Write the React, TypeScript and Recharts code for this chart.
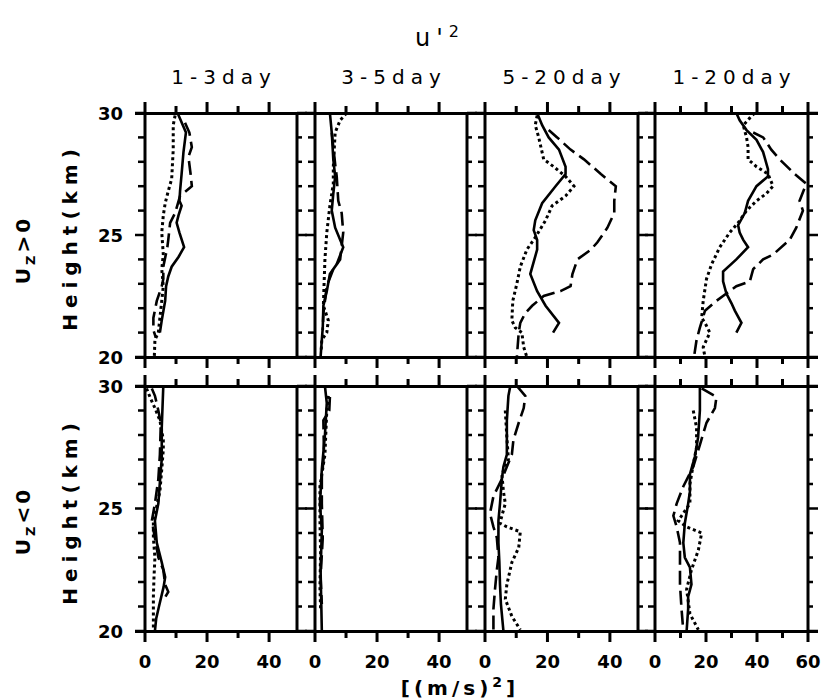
import React from 'react';
import { LineChart, Line, XAxis, YAxis } from 'recharts';

// each point: [height (km), u'^2 (m/s)^2]
type Pt = [number, number];

// ---- Uz > 0 ----
const up13Solid: Pt[] = [[30, 10.5], [29.2, 13.2], [28.4, 12.4], [27.5, 11.8], [26.8, 11.3], [26.4, 11.1], [26.2, 11.8], [25.8, 10.8], [25.5, 10.2], [25.1, 11.1], [24.5, 12.6], [24.1, 10.8], [23.7, 8.6], [23.3, 7.5], [22.9, 6.8], [22.3, 6.5], [21.5, 5.4], [21.0, 4.8]];
const up13Dotted: Pt[] = [[29.9, 9.7], [29.5, 9.1], [28.5, 9.1], [27.3, 8.6], [26.8, 7.5], [26.3, 6.5], [25.8, 5.9], [25.1, 5.4], [24.2, 5.9], [23.6, 5.4], [22.9, 5.9], [22.3, 5.4], [21.6, 4.8], [21.0, 4.3], [20.7, 3.2], [20, 3.0]];
const up13Dashed: Pt[] = [[29.6, 12.9], [29.2, 14.3], [28.6, 15.1], [28.2, 14], [27.5, 14.7], [27.0, 15.1], [26.6, 11.3], [25.9, 9.7], [25.5, 8.1], [24.8, 7.5], [24.5, 7.2], [23.7, 5.9], [23.2, 5.9], [22.9, 5.4], [22.3, 3.8], [21.6, 2.7], [21.1, 2.7], [20.8, 3.5]];

const up35Solid: Pt[] = [[30, 4.8], [29.2, 5.4], [28.1, 5.9], [27.4, 6.5], [26.7, 5.9], [26.0, 5.4], [25.3, 6.5], [24.5, 9.1], [23.8, 7.0], [23.4, 4.8], [22.7, 3.8], [22.1, 2.7], [21.2, 2.5], [20.7, 2.2], [20, 1.8]];
const up35Dotted: Pt[] = [[30, 10.2], [29.7, 8.1], [29.2, 6.5], [27.8, 5.9], [27.1, 5.9], [26.2, 4.8], [25.1, 3.8], [24.0, 3.2], [22.9, 2.9], [22.1, 2.7], [21.5, 4.3], [21.0, 3.8], [20.7, 2.2], [20.3, 2.0]];
const up35Dashed: Pt[] = [[29.2, 5.4], [27.9, 6.5], [27.4, 7.0], [26.4, 7.5], [25.9, 8.6], [25.1, 9.1], [24.0, 8.1], [23.6, 5.9], [22.9, 3.8], [21.8, 2.7], [21.1, 2.5]];

const up520Solid: Pt[] = [[30, 16.7], [29.5, 18.3], [29.0, 20.4], [28.5, 23.7], [27.8, 25.8], [27.5, 25.8], [27.0, 22.6], [26.3, 18.3], [25.6, 16.1], [25.2, 15.6], [24.8, 16.7], [24.4, 16.7], [23.4, 14.5], [22.7, 16.7], [22.1, 19.4], [21.4, 23.7], [21.0, 21.8]];
const up520Dotted: Pt[] = [[29.9, 16.7], [29.5, 16.1], [29.0, 17.2], [28.1, 18.8], [27.8, 22.0], [27.4, 25.8], [27.0, 28.5], [26.6, 25.8], [26.2, 21.5], [25.6, 19.4], [24.9, 16.1], [24.4, 13.4], [23.7, 11.3], [23.0, 10.2], [22.3, 8.9], [21.5, 8.6], [21.2, 9.7], [21.0, 11.8], [20.4, 12.4], [20, 13.4]];
const up520Dashed: Pt[] = [[29.3, 20.4], [29.0, 23.1], [28.5, 27.4], [28.1, 31.7], [27.5, 37.1], [27.0, 41.9], [26.4, 41.4], [25.9, 41.4], [25.3, 39.2], [24.7, 36.0], [24.4, 33.9], [24.0, 29.6], [23.4, 28.0], [22.9, 27.4], [22.7, 24.2], [22.5, 18.8], [22.1, 15.1], [21.8, 12.9], [21.4, 11.3], [21.0, 10.8], [20, 10.2]];

const up120Solid: Pt[] = [[30, 31.9], [29.7, 33.2], [29.3, 35.9], [28.9, 39.8], [28.4, 42.4], [27.7, 44.3], [27.4, 44.3], [27.0, 39.8], [26.4, 36.5], [25.9, 35.2], [25.4, 32.6], [25.1, 33.2], [24.8, 34.6], [24.5, 36.5], [24.0, 31.9], [23.5, 26.7], [23.1, 26.7], [22.6, 28.0], [22.2, 30.0], [21.9, 31.3], [21.4, 33.9], [21.0, 31.9]];
const up120Dotted: Pt[] = [[30, 39.1], [29.8, 37.2], [29.5, 34.6], [29.0, 35.9], [28.6, 36.5], [28.1, 36.5], [27.8, 39.8], [27.5, 44.3], [27.0, 46.3], [26.7, 43.7], [26.4, 39.8], [26.0, 35.9], [25.5, 32.6], [25.1, 29.3], [24.5, 25.4], [23.8, 22.2], [23.2, 20.2], [22.3, 18.9], [21.6, 18.3], [21.4, 19.6], [21.0, 21.5], [20.7, 20.2], [20.4, 18.9], [20, 19.6]];
const up120Dashed: Pt[] = [[29.2, 38.5], [29.0, 42.4], [28.5, 45.6], [28.1, 48.9], [27.5, 54.8], [27.1, 59.3], [26.4, 56.7], [26.0, 58.0], [25.3, 55.4], [24.8, 52.8], [24.2, 46.3], [24.0, 42.4], [23.6, 38.5], [23.1, 37.2], [22.9, 31.9], [22.6, 28.0], [22.3, 24.1], [21.9, 19.6], [21.2, 17.6], [20.7, 16.3], [20, 15.3]];

// ---- Uz < 0 ----
const dn13Solid: Pt[] = [[30, 5.9], [28.3, 5.4], [27, 5.4], [26.6, 5.1], [25.2, 4.3], [24.5, 3.2], [23.6, 3.8], [22.8, 5.4], [22.2, 6.5], [21.8, 6.0], [21.0, 4.5], [20.5, 3.6], [20, 3.2]];
const dn13Dotted: Pt[] = [[29.9, 0.5], [29.55, 1.6], [29.1, 3.2], [28.6, 4.8], [27.8, 5.9], [27.4, 5.9], [26.6, 5.4], [25.7, 4.8], [25.1, 3.8], [24.5, 2.7], [23.8, 2.7], [23.0, 3.2], [22.2, 2.9], [21.4, 2.7], [20.6, 2.7], [20, 2.7]];
const dn13Dashed: Pt[] = [[29.9, 2.2], [29.6, 3.2], [29.0, 4.3], [28.5, 5.1], [27.2, 4.8], [26.2, 4.3], [25.2, 3.2], [24.5, 2.2], [23.8, 3.2], [23.0, 4.3], [22.5, 5.9], [21.9, 6.5], [21.6, 7.5], [21.4, 6.6]];

const dn35Solid: Pt[] = [[30, 3.2], [29.3, 3.8], [28, 3.2], [26.6, 2.2], [25.2, 1.6], [24.1, 2.2], [22.5, 1.8], [20, 2.2]];
const dn35Dotted: Pt[] = [[29.6, 4.3], [29.0, 3.8], [27.2, 3.2], [25.9, 1.6], [24.5, 1.6], [23.2, 1.8], [21.8, 1.6], [20.9, 1.8]];
const dn35Dashed: Pt[] = [[29.55, 4.8], [29.0, 4.6], [28.6, 2.7], [27.2, 2.9], [26.3, 2.2], [25.2, 2.2], [23.8, 2.5], [22.2, 1.8], [21.1, 2.2]];

const dn520Solid: Pt[] = [[30, 8.1], [29.6, 7.5], [28.6, 7.0], [27.2, 7.0], [26.7, 5.9], [26.2, 5.4], [25.2, 4.8], [24.5, 4.3], [23.6, 4.3], [22.8, 4.6], [21.9, 4.8], [21.1, 5.1], [20, 5.9]];
const dn520Dotted: Pt[] = [[29.0, 6.5], [27.9, 7.0], [27.0, 7.5], [26.4, 5.4], [25.7, 5.9], [25.2, 6.5], [24.7, 5.4], [24.4, 4.8], [24.25, 7.0], [24.05, 11.3], [23.4, 10.8], [22.8, 8.6], [21.9, 7.0], [21.3, 6.5], [20.6, 8.6], [20.05, 11.3]];
const dn520Dashed: Pt[] = [[30, 10.2], [29.6, 12.9], [29.1, 12.4], [28.5, 10.8], [27.8, 9.1], [27.2, 8.6], [26.7, 7.0], [26.2, 5.4], [25.5, 2.7], [24.8, 1.6], [24.25, 2.7], [23.8, 3.8], [23.0, 4.3], [22.5, 3.8], [21.7, 3.2], [20.9, 2.7], [20, 2.7]];

const dn120Solid: Pt[] = [[30, 17.6], [29.0, 17.6], [27.9, 16.9], [27.1, 15.6], [26.4, 13.7], [25.7, 13.7], [25.2, 13.0], [24.4, 11.7], [23.6, 11.1], [23.0, 11.7], [22.6, 13.7], [21.9, 14.3], [21.4, 13.0], [20.9, 13.0], [20, 12.4]];
const dn120Dotted: Pt[] = [[29.0, 15.0], [28.3, 16.3], [27.5, 16.3], [26.8, 15.0], [26.0, 13.7], [25.2, 13.7], [24.8, 11.1], [24.5, 9.1], [24.25, 12.4], [24.0, 18.3], [23.3, 17.0], [22.5, 14.3], [21.7, 12.4], [20.7, 13.7], [20.05, 17.0]];
const dn120Dashed: Pt[] = [[29.9, 18.3], [29.55, 24.1], [29.1, 23.5], [28.5, 20.2], [27.6, 17.6], [26.7, 15.0], [25.9, 11.1], [25.2, 8.5], [24.7, 7.2], [24.25, 8.5], [23.6, 9.8], [22.8, 9.8], [21.9, 9.8], [20.9, 10.4], [20, 11.1]];

const panelTitles = ['1-3day', '3-5day', '5-20day', '1-20day'];
const xMax = [49, 49, 49, 60];
const xTicksA = [0, 10, 20, 30, 40];
const xTicksB = [0, 10, 20, 30, 40, 50, 60];
const yTicks = [20, 21, 22, 23, 24, 25, 26, 27, 28, 29, 30];

const rows = [
  [
    [up13Solid, up13Dotted, up13Dashed],
    [up35Solid, up35Dotted, up35Dashed],
    [up520Solid, up520Dotted, up520Dashed],
    [up120Solid, up120Dotted, up120Dashed],
  ],
  [
    [dn13Solid, dn13Dotted, dn13Dashed],
    [dn35Solid, dn35Dotted, dn35Dashed],
    [dn520Solid, dn520Dotted, dn520Dashed],
    [dn120Solid, dn120Dotted, dn120Dashed],
  ],
];

const INK = '#000';
const FONT = '"DejaVu Sans", sans-serif';
const lineStyles = [
  { dash: undefined, w: 2.6 },
  { dash: '3 3', w: 3 },
  { dash: '14 6', w: 2.6 },
];

const PANEL_LEFT = [145, 315, 485, 655];
const PANEL_W = [152, 152, 153, 153];
const ROW_TOP = [113, 386];
const ROW_H = [244, 245];
const M = 14;

const toRows = (pts: Pt[]) => pts.map(([h, v]) => ({ h, v }));

// top-axis tick: draws the tick above the frame, the matching one below it, and the bottom label
const xTick = (plotH: number, label: boolean) => (p: any) => {
  const v = p.payload.value;
  const len = v % 20 === 0 ? 11 : 7;
  const yb = p.y + plotH;
  return (
    <g>
      <rect x={p.x - 1.5} y={p.y - len} width={3} height={len + 1} fill={INK} />
      <rect x={p.x - 1.5} y={yb - 1} width={3} height={len + 1} fill={INK} />
      {label && v % 20 === 0 && (
        <text x={p.x} y={yb + 37} textAnchor="middle" fontSize={18} fontWeight="bold" fontFamily={FONT} fill={INK}>
          {v}
        </text>
      )}
    </g>
  );
};

const yTick = (dir: number, label: boolean) => (p: any) => {
  const v = p.payload.value;
  const len = v % 5 === 0 ? 10 : dir < 0 ? 7 : 5;
  return (
    <g>
      <rect x={dir < 0 ? p.x - len : p.x} y={p.y - 1.25} width={len} height={2.5} fill={INK} />
      {label && v % 5 === 0 && (
        <text x={p.x - 22} y={p.y + 6.5} textAnchor="end" fontSize={18} fontWeight="bold" fontFamily={FONT} fill={INK}>
          {v}
        </text>
      )}
    </g>
  );
};

function Panel({ r, c }: { r: number; c: number }) {
  const left = c === 0 ? 60 : M;
  const bottom = r === 1 ? 45 : M;
  const w = PANEL_W[c] + left + M;
  const h = ROW_H[r] + M + bottom;
  const ticks = c === 3 ? xTicksB : xTicksA;
  const dom: [number, number] = [0, xMax[c]];
  return (
    <div style={{ position: 'absolute', left: PANEL_LEFT[c] - left, top: ROW_TOP[r] - M }}>
      <LineChart width={w} height={h} layout="vertical" margin={{ top: M - 1, right: M - 1, bottom: bottom - 1, left: left - 1 }}>
        <XAxis xAxisId="b" type="number" orientation="bottom" domain={dom} ticks={ticks} interval={0}
          allowDataOverflow height={1} axisLine={false} tickLine={false} tick={false} />
        <XAxis xAxisId="t" type="number" orientation="top" domain={dom} ticks={ticks} interval={0}
          allowDataOverflow height={1} axisLine={false} tickLine={false} tickSize={0} tickMargin={0}
          tick={xTick(ROW_H[r], r === 1)} />
        <YAxis yAxisId="l" type="number" dataKey="h" domain={[20, 30]} ticks={yTicks} interval={0} reversed
          allowDataOverflow width={1} axisLine={{ stroke: INK, strokeWidth: 3 }} tickLine={false} tickSize={0}
          tickMargin={0} tick={yTick(-1, c === 0)} />
        <YAxis yAxisId="r" orientation="right" type="number" dataKey="h" domain={[20, 30]} ticks={yTicks} reversed
          interval={0} allowDataOverflow width={1} axisLine={{ stroke: INK, strokeWidth: 3 }} tickLine={false}
          tickSize={0} tickMargin={0} tick={yTick(1, false)} />
        {rows[r][c].map((pts, i) => (
          <Line key={i} xAxisId="b" yAxisId="l" data={toRows(pts)} dataKey="v" type="linear" stroke={INK}
            strokeWidth={lineStyles[i].w} strokeDasharray={lineStyles[i].dash} dot={false} activeDot={false}
            isAnimationActive={false} />
        ))}
      </LineChart>
    </div>
  );
}

const hLine = (y: number) => (
  <div key={y} style={{ position: 'absolute', left: 135, top: y - 1.5, width: 683, height: 3, background: INK }} />
);

const vText = (text: React.ReactNode, cx: number, cy: number, spacing: number) => (
  <div style={{
    position: 'absolute', left: cx, top: cy, transform: 'translate(-50%, -50%) rotate(-90deg)',
    whiteSpace: 'nowrap', fontFamily: FONT, fontWeight: 'bold', fontSize: 20, letterSpacing: spacing, color: INK,
  }}>{text}</div>
);

export default function App() {
  return (
    <div style={{ position: 'absolute', left: 0, top: 0, width: 823, height: 700, background: '#fff', overflow: 'hidden' }}>
      <div style={{ position: 'absolute', left: 440, top: 22, transform: 'translateX(-50%)', fontFamily: FONT, fontSize: 24, letterSpacing: 6, color: INK, whiteSpace: 'nowrap' }}>
        u'<sup style={{ fontSize: 16 }}>2</sup>
      </div>
      {panelTitles.map((t, c) => (
        <div key={t} style={{ position: 'absolute', left: PANEL_LEFT[c] + PANEL_W[c] / 2 + 3, top: 65, transform: 'translateX(-50%)', fontFamily: FONT, fontSize: 20, letterSpacing: 6, color: INK, whiteSpace: 'nowrap' }}>
          {t}
        </div>
      ))}
      {[0, 1].map((r) => [0, 1, 2, 3].map((c) => <Panel key={`${r}-${c}`} r={r} c={c} />))}
      {ROW_TOP.map((t, r) => [hLine(t), hLine(t + ROW_H[r])])}
      {vText('Height(km)', 70, 237, 6)}
      {vText(<span>U<sub style={{ fontSize: 13 }}>Z</sub>&gt;0</span>, 24, 250, 3)}
      {vText('Height(km)', 70, 511, 6)}
      {vText(<span>U<sub style={{ fontSize: 13 }}>Z</sub>&lt;0</span>, 24, 521, 3)}
      <div style={{ position: 'absolute', left: 460, top: 676, transform: 'translateX(-50%)', fontFamily: FONT, fontWeight: 'bold', fontSize: 20, letterSpacing: 4, color: INK, whiteSpace: 'nowrap', lineHeight: '24px' }}>
        [(m/s)<sup style={{ fontSize: 14, lineHeight: 0 }}>2</sup>]
      </div>
    </div>
  );
}
